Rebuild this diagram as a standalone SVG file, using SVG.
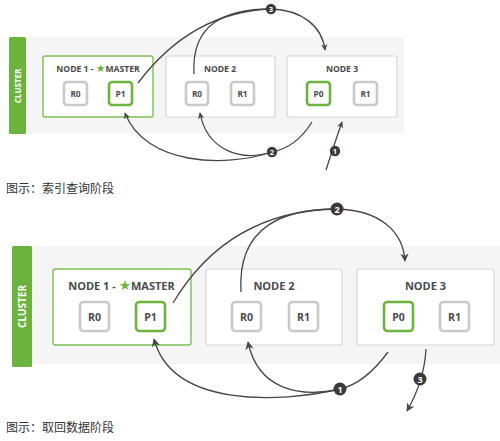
<svg xmlns="http://www.w3.org/2000/svg" width="500" height="441" viewBox="0 0 500 441">
<defs>
<style>
.band{fill:#f5f5f5}
.bar{fill:#6cb33e}
.ct{fill:#fff;font-family:"Open Sans","Liberation Sans",sans-serif;font-weight:bold;text-anchor:middle}
.node{fill:#fff;stroke:#d6d6d6;stroke-width:1.2}
.master{fill:#fff;stroke:#7cc057;stroke-width:1.4}
.nt{fill:#4a4a4a;font-family:"Open Sans","Liberation Sans",sans-serif;font-weight:bold;text-anchor:middle}
.rep{fill:#fff;stroke:#c9c9c9;stroke-width:2.6}
.pri{fill:#fff;stroke:#6cb33e;stroke-width:2.6}
.st{fill:#4a4a4a;font-family:"Open Sans","Liberation Sans",sans-serif;font-weight:bold;text-anchor:middle}
.star{fill:#6cb33e;font-family:"DejaVu Sans",sans-serif;font-size:1.25em}
.ln{fill:none;stroke:#474747;stroke-width:1.3}
.num{fill:#3a3a3a}
.nn{fill:#fff;font-family:"Open Sans","Liberation Sans",sans-serif;font-weight:bold;text-anchor:middle}
.cap{fill:#333;font-family:"Noto Sans CJK SC",sans-serif;font-size:12px}
</style>
<marker id="ah" viewBox="0 0 10 10" refX="9" refY="5" markerWidth="5" markerHeight="5" orient="auto" markerUnits="strokeWidth">
<path d="M0,0 L10,5 L0,10 L3,5 Z" fill="#474747"/>
</marker>
<marker id="ah2" viewBox="0 0 10 10" refX="9" refY="5" markerWidth="6.5" markerHeight="6.5" orient="auto" markerUnits="strokeWidth">
<path d="M0,0 L10,5 L0,10 L3,5 Z" fill="#474747"/>
</marker>
</defs>

<!-- ===== Top diagram: query phase ===== -->
<g id="cluster1">
<rect class="band" x="26" y="37" width="378" height="96"/>
<rect class="bar" x="9" y="37" width="17" height="97" rx="1.5"/>
<text class="ct" x="0" y="0" font-size="8" transform="translate(20.5,86) rotate(-90)">CLUSTER</text>
</g>
<g id="t-node1">
<rect class="master" x="43" y="56" width="110" height="61" rx="2"/>
<text class="nt" x="98" y="72" font-size="8.6">NODE 1 - <tspan class="star">★</tspan>MASTER</text>
<rect class="rep" x="64" y="82" width="23" height="23" rx="3"/>
<text class="st" x="75.5" y="96.8" font-size="8.3">R0</text>
<rect class="pri" x="109" y="82" width="23" height="23" rx="3"/>
<text class="st" x="120.5" y="96.8" font-size="8.3">P1</text>
</g>
<g id="t-node2">
<rect class="node" x="166" y="56" width="109" height="61" rx="2"/>
<text class="nt" x="220" y="72" font-size="8.6">NODE 2</text>
<rect class="rep" x="186" y="82" width="22" height="23" rx="3"/>
<text class="st" x="197" y="96.8" font-size="8.3">R0</text>
<rect class="rep" x="231" y="82" width="23" height="23" rx="3"/>
<text class="st" x="242.5" y="96.8" font-size="8.3">R1</text>
</g>
<g id="t-node3">
<rect class="node" x="287" y="56" width="110" height="61" rx="2"/>
<text class="nt" x="342" y="72" font-size="8.6">NODE 3</text>
<rect class="pri" x="307" y="82" width="23" height="23" rx="3"/>
<text class="st" x="318.5" y="96.8" font-size="8.3">P0</text>
<rect class="rep" x="354" y="82" width="23" height="23" rx="3"/>
<text class="st" x="365.5" y="96.8" font-size="8.3">R1</text>
</g>
<g id="t-connectors">
<path class="ln" d="M138,83 C172,38 215,11 271,9"/>
<path class="ln" d="M194,74 C191,24 225,9 271,9"/>
<path class="ln" d="M271,9 C302,10 322,26 325,50" marker-end="url(#ah)"/>
<path class="ln" d="M312,122 C302,138 288,149 272,152"/>
<path class="ln" d="M272,152 C225,168 145,165 125,113" marker-end="url(#ah)"/>
<path class="ln" d="M272,152 C240,162 207,150 200,113" marker-end="url(#ah)"/>
<path class="ln" d="M326,170 Q333,148 342,122" marker-end="url(#ah)"/>
<circle class="num" cx="271" cy="9" r="5.2"/>
<text class="nn" x="271" y="11.8" font-size="7.5">3</text>
<circle class="num" cx="272" cy="152" r="5.2"/>
<text class="nn" x="272" y="154.8" font-size="7.5">2</text>
<circle class="num" cx="335" cy="151" r="5.2"/>
<text class="nn" x="335" y="153.8" font-size="7.5">1</text>
</g>
<text class="cap" x="6" y="192.5">图示：索引查询阶段</text>

<!-- ===== Bottom diagram: fetch phase ===== -->
<g id="cluster2">
<rect class="band" x="32" y="246" width="468" height="118"/>
<rect class="bar" x="12" y="246" width="20" height="121" rx="1.5"/>
<text class="ct" x="0" y="0" font-size="10" transform="translate(25.5,306.5) rotate(-90)">CLUSTER</text>
</g>
<g id="b-node1">
<rect class="master" x="53" y="269" width="138" height="76" rx="2.5"/>
<text class="nt" x="121.5" y="289.5" font-size="11">NODE 1 - <tspan class="star">★</tspan>MASTER</text>
<rect class="rep" x="80" y="302" width="29" height="29" rx="3.5"/>
<text class="st" x="94.5" y="320.8" font-size="10.5">R0</text>
<rect class="pri" x="136" y="302" width="29" height="29" rx="3.5"/>
<text class="st" x="150.5" y="320.8" font-size="10.5">P1</text>
</g>
<g id="b-node2">
<rect class="node" x="206" y="269" width="136" height="76" rx="2.5"/>
<text class="nt" x="274" y="289.5" font-size="11">NODE 2</text>
<rect class="rep" x="232" y="302" width="29" height="29" rx="3.5"/>
<text class="st" x="246.5" y="320.8" font-size="10.5">R0</text>
<rect class="rep" x="289" y="302" width="29" height="29" rx="3.5"/>
<text class="st" x="303.5" y="320.8" font-size="10.5">R1</text>
</g>
<g id="b-node3">
<rect class="node" x="357" y="269" width="137" height="76" rx="2.5"/>
<text class="nt" x="425.5" y="289.5" font-size="11">NODE 3</text>
<rect class="pri" x="384" y="302" width="29" height="29" rx="3.5"/>
<text class="st" x="398.5" y="320.8" font-size="10.5">P0</text>
<rect class="rep" x="440" y="302" width="29" height="29" rx="3.5"/>
<text class="st" x="454.5" y="320.8" font-size="10.5">R1</text>
</g>
<g id="b-connectors">
<path class="ln" d="M173,303 C212,238 268,210 337,209"/>
<path class="ln" d="M241,292 C237,225 285,209 337,209"/>
<path class="ln" d="M337,209 C378,210 403,230 405,261" marker-end="url(#ah2)"/>
<path class="ln" d="M388,352 C374,371 358,385 340,389"/>
<path class="ln" d="M340,389 C280,403 172,408 154,339" marker-end="url(#ah2)"/>
<path class="ln" d="M340,389 C300,398 258,390 248,342" marker-end="url(#ah2)"/>
<path class="ln" d="M426,349 C425,368 419,390 407,411" marker-end="url(#ah2)"/>
<circle class="num" cx="337" cy="209" r="6.5"/>
<text class="nn" x="337" y="212.5" font-size="9">2</text>
<circle class="num" cx="340" cy="389" r="6.5"/>
<text class="nn" x="340" y="392.5" font-size="9">1</text>
<circle class="num" cx="420" cy="379" r="6.5"/>
<text class="nn" x="420" y="382.5" font-size="9">3</text>
</g>
<text class="cap" x="6" y="431.5">图示：取回数据阶段</text>
</svg>
